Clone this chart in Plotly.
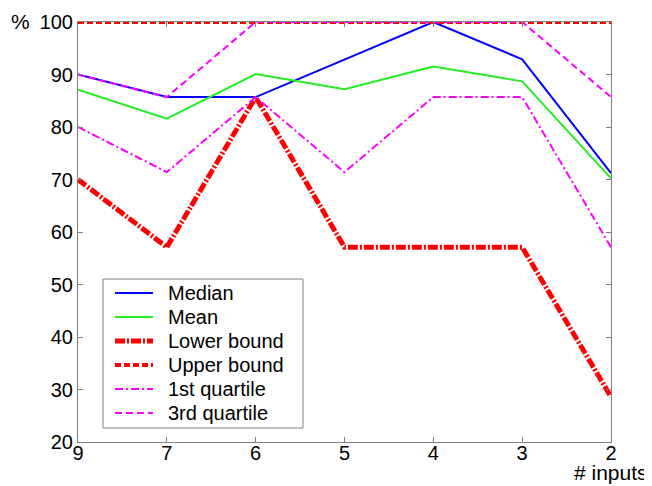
import plotly.graph_objects as go

inputs = ["9", "7", "6", "5", "4", "3", "2"]
median = [90, 85.7, 85.7, 92.9, 100, 92.9, 71.2]
mean = [87.1, 81.6, 90.1, 87.2, 91.5, 88.7, 70.2]
lower_bound = [70, 57.1, 85.7, 57.1, 57.1, 57.1, 28.6]
upper_bound = [100, 100, 100, 100, 100, 100, 100]
q1 = [80, 71.4, 85.7, 71.4, 85.7, 85.7, 57.1]
q3 = [90, 85.7, 100, 100, 100, 100, 85.7]

series = [
    ("Median", median, dict(color="#0000ff", width=2)),
    ("Mean", mean, dict(color="#22ee22", width=2)),
    ("Lower bound", lower_bound, dict(color="#ff0000", width=5, dash="10px,2px,2px,2px")),
    ("Upper bound", upper_bound, dict(color="#ff0000", width=4, dash="6px,3px")),
    ("1st quartile", q1, dict(color="#ff00ff", width=2, dash="8px,3px,2px,3px")),
    ("3rd quartile", q3, dict(color="#ff00ff", width=2, dash="7px,4px")),
]

FONT = "Liberation Sans, Arial"
fig = go.Figure()
for name, vals, line in series:
    fig.add_trace(go.Scatter(x=inputs, y=vals, mode="lines", name=name, line=line,
                             showlegend=False))

axis_common = dict(showgrid=False, zeroline=False, showline=True, linecolor="#808080",
                   linewidth=1, mirror="ticks", ticks="inside", tickcolor="#808080",
                   ticklen=5, automargin=False,
                   tickfont=dict(family=FONT, size=20, color="black"))

# manual legend (MATLAB style) in paper coordinates
shapes = [dict(type="rect", xref="paper", yref="paper", x0=0.0469, x1=0.4221,
               y0=0.0333, y1=0.388, line=dict(color="#808080", width=1),
               fillcolor="white", layer="above")]
annotations = []
y_top = 0.3548
step = 24 / 420
for i, (name, vals, line) in enumerate(series):
    yy = y_top - i * step
    shapes.append(dict(type="line", xref="paper", yref="paper", x0=0.0694, x1=0.1407,
                       y0=yy, y1=yy, line=line, layer="above"))
    annotations.append(dict(text=name, xref="paper", yref="paper", x=0.1651, y=yy,
                            xanchor="left", yanchor="middle", showarrow=False,
                            font=dict(family=FONT, size=20, color="black")))

annotations += [
    dict(text="%", xref="paper", yref="paper", x=-0.107, y=434 / 420, xanchor="center",
         yanchor="top", showarrow=False, font=dict(family=FONT, size=21, color="black")),
    dict(text="# inputs", xref="paper", yref="paper", x=1.073, y=-44 / 420, xanchor="right",
         yanchor="bottom", showarrow=False, font=dict(family=FONT, size=21, color="black")),
]

fig.update_layout(
    width=644, height=478,
    margin=dict(l=70, r=41, t=14, b=44),
    paper_bgcolor="white", plot_bgcolor="white",
    font=dict(family=FONT, size=20, color="black"),
    xaxis=dict(type="category", range=[0, 6], ticklabelstandoff=-7, **axis_common),
    yaxis=dict(range=[20, 100], tickvals=[20, 30, 40, 50, 60, 70, 80, 90, 100], **axis_common),
    showlegend=False,
    shapes=shapes,
    annotations=annotations,
)

fig.write_html("out.html")
